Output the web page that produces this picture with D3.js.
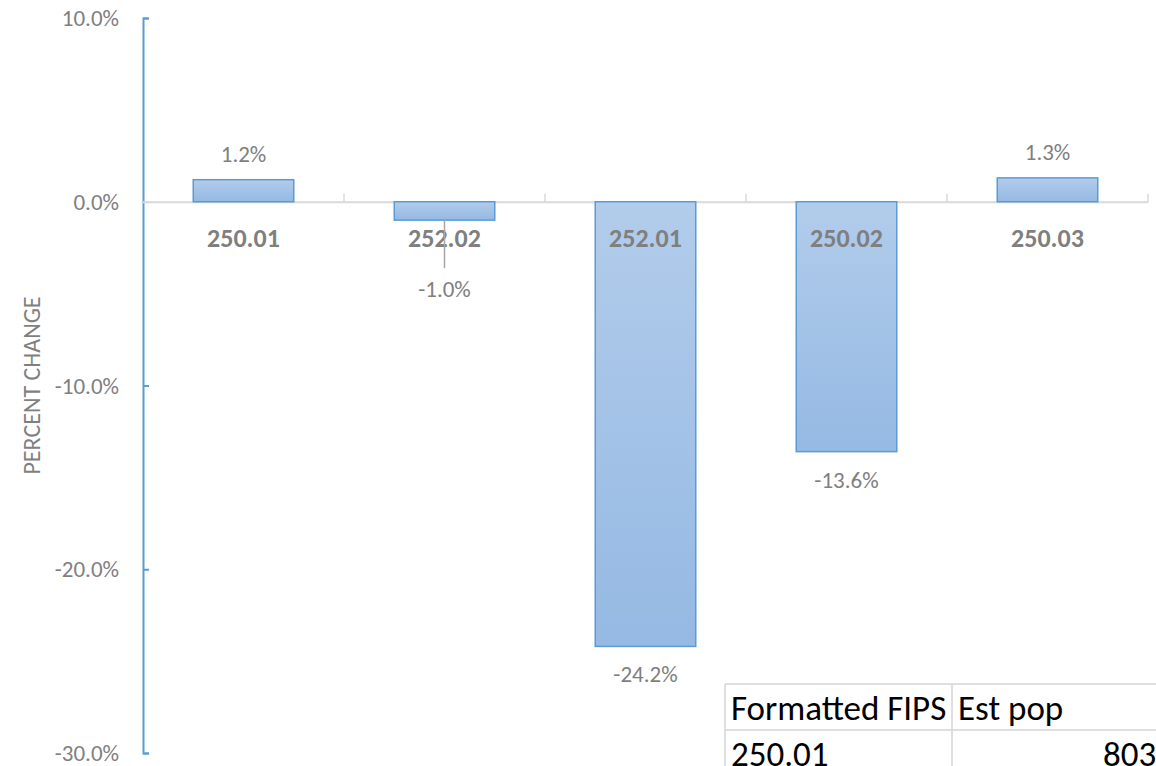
<!DOCTYPE html>
<html>
<head>
<meta charset="utf-8">
<script src="https://cdn.jsdelivr.net/npm/d3@7"></script>
<style>
  body { margin: 0; background: #fff; }
  svg { display: block; font-family: Carlito, Lato, 'Open Sans', sans-serif; }
</style>
</head>
<body>
<svg id="chart" width="1156" height="766"></svg>
<script>
// chart data
const tracts = ['250.01', '252.02', '252.01', '250.02', '250.03'];
const pctChange = [1.2, -1.0, -24.2, -13.6, 1.3];
const yTicks = [10, 0, -10, -20, -30];

// spreadsheet cells peeking in at the bottom right
const tableHeader = ['Formatted FIPS', 'Est pop'];
const tableRow = ['250.01', '8036'];

const svg = d3.select('#chart'),
  margin = { top: 18, right: 8, bottom: 13, left: 143 },
  width = +svg.attr('width'),
  height = +svg.attr('height');

const y = d3
  .scaleLinear()
  .domain([-30, 10])
  .range([height - margin.bottom, margin.top]);

const x = d3
  .scaleBand()
  .domain(tracts)
  .range([margin.left, width - margin.right])
  .paddingInner(0.5)
  .paddingOuter(0.25);

const step = x.step();
const grey = '#7f7f7f';
const blue = '#5b9bd5';
const cx = t => x(t) + x.bandwidth() / 2;

const rows = tracts.map((t, i) => ({ tract: t, value: pctChange[i] }));

const defs = svg.append('defs');
const grad = defs
  .append('linearGradient')
  .attr('id', 'barFill')
  .attr('x1', 0).attr('y1', 0)
  .attr('x2', 0).attr('y2', 1);
grad.append('stop').attr('offset', '0%').attr('stop-color', '#b2cceb');
grad.append('stop').attr('offset', '100%').attr('stop-color', '#95b9e3');

// horizontal zero line + band ticks
const xAxis = g =>
  g
    .attr('transform', `translate(0,${y(0)})`)
    .call(d3.axisTop(x).tickSize(0).tickFormat(''))
    .call(g => g.select('.domain').attr('stroke', '#d9d9d9').attr('stroke-width', 2))
    .call(g =>
      g
        .selectAll('line.band')
        .data(d3.range(1, tracts.length + 1))
        .enter()
        .append('line')
        .attr('class', 'band')
        .attr('x1', i => margin.left + i * step)
        .attr('x2', i => margin.left + i * step)
        .attr('y1', 0)
        .attr('y2', -8)
        .attr('stroke', '#d9d9d9')
        .attr('stroke-width', 1.5)
    );

svg.append('g').call(xAxis);

// bars
svg
  .append('g')
  .selectAll('rect')
  .data(rows)
  .enter()
  .append('rect')
  .attr('x', d => x(d.tract))
  .attr('y', d => y(Math.max(0, d.value)))
  .attr('width', x.bandwidth())
  .attr('height', d => Math.abs(y(d.value) - y(0)))
  .attr('fill', 'url(#barFill)')
  .attr('stroke', blue)
  .attr('stroke-width', 1.5);

// vertical axis
const yAxis = g =>
  g
    .attr('transform', `translate(${margin.left},0)`)
    .call(d3.axisRight(y).tickValues(yTicks).tickSize(6).tickFormat(''))
    .call(g => g.select('.domain').attr('stroke', blue).attr('stroke-width', 2))
    .call(g => g.selectAll('.tick line').attr('stroke', d => (d === 0 ? '#d9d9d9' : blue)).attr('stroke-width', 2));

svg.append('g').call(yAxis);

svg
  .append('g')
  .attr('font-size', 23)
  .attr('fill', grey)
  .attr('text-anchor', 'end')
  .selectAll('text')
  .data(yTicks)
  .enter()
  .append('text')
  .attr('x', margin.left - 24)
  .attr('y', d => y(d))
  .attr('dy', '0.35em')
  .text(d => d.toFixed(1) + '%');

svg
  .append('text')
  .attr('transform', `translate(40,${y(-10)}) rotate(-90)`)
  .attr('text-anchor', 'middle')
  .attr('font-size', 24)
  .attr('fill', grey)
  .text('PERCENT CHANGE');

// category labels just under the zero line
svg
  .append('g')
  .attr('font-size', 26)
  .attr('font-weight', 'bold')
  .attr('fill', grey)
  .attr('text-anchor', 'middle')
  .selectAll('text')
  .data(tracts)
  .enter()
  .append('text')
  .attr('x', cx)
  .attr('y', y(0) + 45)
  .text(d => d);

// value labels; small negatives would hit the category label, so push them down with a leader
const labelPos = d => {
  if (d >= 0) return { y: y(d) - 18, leader: false };
  if (y(d) - y(0) < 40) return { y: y(d) + 77, leader: true };
  return { y: y(d) + 36, leader: false };
};

const vals = svg
  .append('g')
  .selectAll('g')
  .data(rows)
  .enter()
  .append('g');

vals
  .filter(d => labelPos(d.value).leader)
  .append('line')
  .attr('x1', d => cx(d.tract))
  .attr('x2', d => cx(d.tract))
  .attr('y1', d => y(d.value))
  .attr('y2', d => labelPos(d.value).y - 29)
  .attr('stroke', '#a6a6a6')
  .attr('stroke-width', 1.5);

vals
  .append('text')
  .attr('x', d => cx(d.tract))
  .attr('y', d => labelPos(d.value).y)
  .attr('text-anchor', 'middle')
  .attr('font-size', 23)
  .attr('fill', grey)
  .text(d => d.value.toFixed(1) + '%');

// table fragment
const tbl = svg.append('g').attr('font-size', 35).attr('fill', '#000');
const colX = [725, 952, 1180];
const rowY = [684, 730, 776];
const cellStroke = '#d4d4d4';

rowY.forEach(ry =>
  tbl.append('line').attr('x1', colX[0]).attr('x2', width).attr('y1', ry).attr('y2', ry)
    .attr('stroke', cellStroke).attr('stroke-width', 1.5)
);
colX.forEach(cX =>
  tbl.append('line').attr('x1', cX).attr('x2', cX).attr('y1', rowY[0]).attr('y2', height)
    .attr('stroke', cellStroke).attr('stroke-width', 1.5)
);

tbl.selectAll('text.h')
  .data(tableHeader)
  .enter()
  .append('text')
  .attr('x', (d, i) => colX[i] + 6)
  .attr('y', rowY[0] + 36)
  .text(d => d);

tbl.append('text')
  .attr('x', colX[0] + 6)
  .attr('y', rowY[1] + 36)
  .text(tableRow[0]);

tbl.append('text')
  .attr('x', colX[2] - 6)
  .attr('y', rowY[1] + 36)
  .attr('text-anchor', 'end')
  .text(tableRow[1]);
</script>
</body>
</html>
